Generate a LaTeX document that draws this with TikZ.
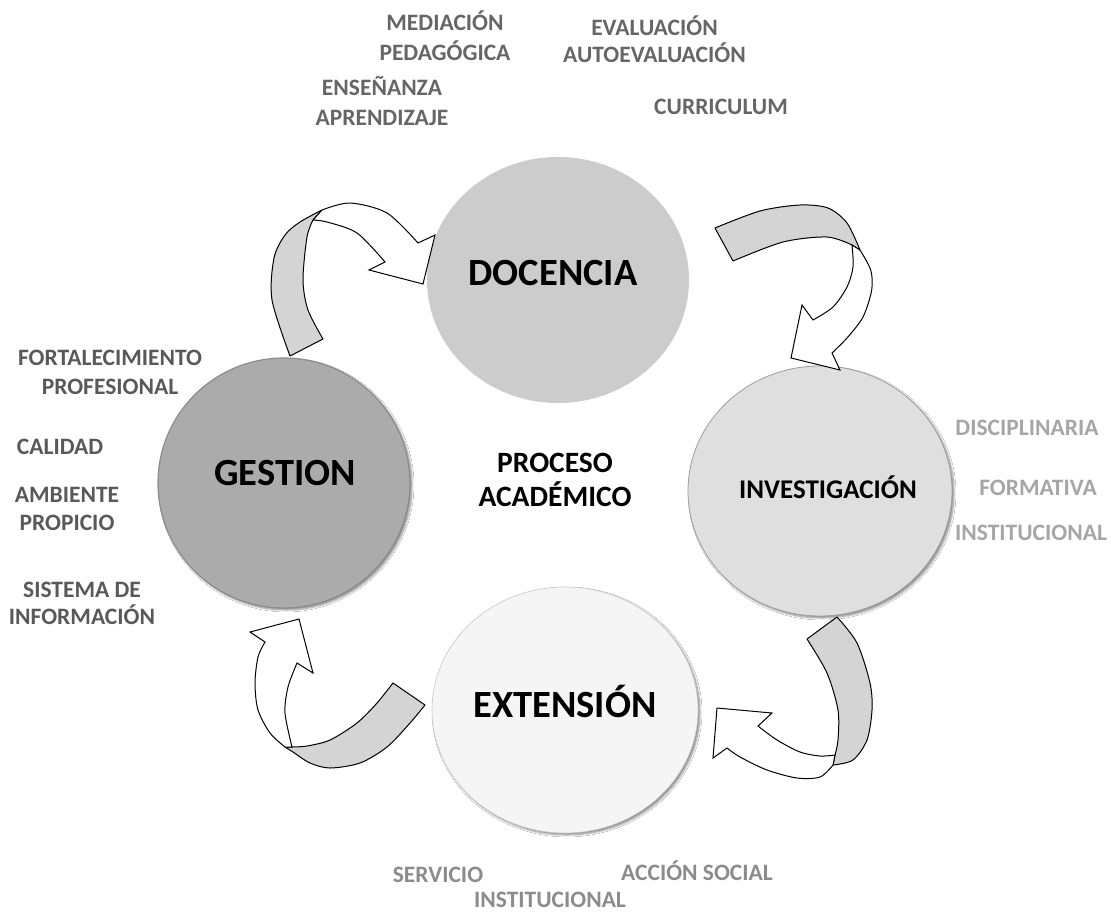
\documentclass[tikz,border=0pt]{standalone}
\usepackage{fontspec}
\setmainfont{Carlito}
\usetikzlibrary{shapes.geometric,shadows.blur}
\definecolor{docfill}{HTML}{CCCCCC}
\definecolor{invfill}{HTML}{DFDFDF}
\definecolor{extfill}{HTML}{F5F5F5}
\definecolor{gesfill}{HTML}{ABABAB}
\definecolor{bandfill}{HTML}{D4D4D4}
\definecolor{labdoc}{HTML}{666666}
\definecolor{labges}{HTML}{595959}
\definecolor{labinv}{HTML}{A6A6A6}
\definecolor{labext}{HTML}{8C8C8C}
\tikzset{
  lab/.style={font=\fontsize{23.5}{28}\selectfont\bfseries, anchor=base, inner sep=0pt},
  bigtxt/.style={font=\fontsize{38.5}{46}\selectfont\bfseries, anchor=base, inner sep=0pt},
  midtxt/.style={font=\fontsize{27}{32}\selectfont\bfseries, anchor=base, inner sep=0pt},
  protxt/.style={font=\fontsize{29.5}{35}\selectfont\bfseries, anchor=base, inner sep=0pt},
  disc/.style={ellipse, inner sep=0pt},
  softshadow/.style={blur shadow={shadow xshift=2pt, shadow yshift=-2pt, shadow blur steps=6, shadow opacity=45}},
  band/.style={fill=bandfill, draw=black, line width=1pt, line join=round},
  arrowbody/.style={fill=white, draw=black, line width=1pt, line join=miter},
}
\begin{document}
\begin{tikzpicture}[x=1pt,y=-1pt]
\useasboundingbox (0,0) rectangle (1111,918);
\fill[white] (0,0) rectangle (1111,918);

% circles
\node[disc, fill=docfill, minimum width=262pt, minimum height=246pt] (doc) at (558,280) {};
\node[disc, softshadow, fill=invfill, draw=black!38, line width=0.8pt, minimum width=264pt, minimum height=250pt] (inv) at (820,491) {};
\node[disc, softshadow, fill=extfill, draw=black!22, line width=0.6pt, minimum width=266pt, minimum height=246pt] (ext) at (565,710) {};
\node[disc, softshadow, fill=gesfill, draw=black!45, line width=1.2pt, minimum width=252pt, minimum height=250pt] (ges) at (284,483) {};

% arrow Gestion -> Docencia
\filldraw[band] (290,356) -- plot[smooth] coordinates {(290,356) (272,300) (274,258) (285,235) (300,222) (322,210)} -- (313,220) -- plot[smooth] coordinates {(313,220) (307,237) (303,280) (308,310) (323,339)} -- cycle;
\filldraw[arrowbody] (322,210) -- plot[smooth] coordinates {(322,210) (350,203) (387,213) (418,243)} -- (435,235) -- (423,284) -- (369,270) -- (385,262) -- plot[smooth] coordinates {(385,262) (357,233) (327,222) (313,220)} -- cycle;

% arrow Docencia -> Investigacion
\filldraw[band] (715,228) -- plot[smooth] coordinates {(715,228) (760,211) (800,205) (828,208) (847,223) (860,250)} -- (852,245) -- plot[smooth] coordinates {(852,245) (827,237) (783,242) (733,261)} -- cycle;
\filldraw[arrowbody] (860,250) -- plot[smooth] coordinates {(860,250) (870.7,270) (871.7,290) (863,317) (847,338) (832,353)} -- (840,370) -- (791,358) -- (802,305) -- (813,320) -- plot[smooth] coordinates {(813,320) (833,307) (847,287) (853,267) (852,245)} -- cycle;

% arrow Investigacion -> Extension
\filldraw[band] (807,639) -- (837,617) -- plot[smooth] coordinates {(837,617) (857,643) (870,683) (872,710) (867,740) (853,760) (833,765)} -- (835,755) -- plot[smooth] coordinates {(835,755) (838,740) (838,710) (827,673) (807,639)} -- cycle;
\filldraw[arrowbody] (833,765) -- plot[smooth] coordinates {(833,765) (820,777) (797,778) (767,770) (740,757) (727,748)} -- (713,758) -- (717,708) -- (772,713) -- (758,726) -- plot[smooth] coordinates {(758,726) (777,740) (800,752) (820,756) (835,755)} -- cycle;

% arrow Extension -> Gestion
\filldraw[band] (393,683) -- (425,705) -- plot[smooth] coordinates {(425,705) (410,723) (387,747) (360,763) (330,768) (310,763) (293,752) (285,747)} -- (292,747) -- plot[smooth] coordinates {(292,747) (307,746) (330,740) (357,723) (377,703) (393,683)} -- cycle;
\filldraw[arrowbody] (285,747) -- plot[smooth] coordinates {(285,747) (270,733) (258,710) (255,683) (258,657) (265,642)} -- (250,632) -- (299,619) -- (313,673) -- (297,663) -- plot[smooth] coordinates {(297,663) (288,687) (285,713) (292,747)} -- cycle;

% main texts
\node[bigtxt] (tdoc) at (553,285.5) {DOCENCIA};
\node[bigtxt] (tges) at (285,485) {GESTION};
\node[bigtxt] (text) at (565,717) {EXTENSIÓN};
\node[midtxt] (tinv) at (828,498.5) {INVESTIGACIÓN};
\node[protxt] (tpro1) at (555,472.3) {PROCESO};
\node[protxt] (tpro2) at (555,506.3) {ACADÉMICO};

% docencia labels
\node[lab, labdoc] (d1) at (445,30.4) {MEDIACIÓN};
\node[lab, labdoc] (d2) at (445,60.4) {PEDAGÓGICA};
\node[lab, labdoc] (d3) at (654.5,35.4) {EVALUACIÓN};
\node[lab, labdoc] (d4) at (654.5,62.4) {AUTOEVALUACIÓN};
\node[lab, labdoc] (d5) at (382,95.4) {ENSEÑANZA};
\node[lab, labdoc] (d6) at (382,125.4) {APRENDIZAJE};
\node[lab, labdoc] (d7) at (721,114.4) {CURRICULUM};

% gestion labels
\node[lab, labges] (g1) at (110,365.4) {FORTALECIMIENTO};
\node[lab, labges] (g2) at (110,394.4) {PROFESIONAL};
\node[lab, labges] (g3) at (60,454.4) {CALIDAD};
\node[lab, labges] (g4) at (67,502.4) {AMBIENTE};
\node[lab, labges] (g5) at (67,530.4) {PROPICIO};
\node[lab, labges] (g6) at (82,597.4) {SISTEMA DE};
\node[lab, labges] (g7) at (82,624.4) {INFORMACIÓN};

% investigacion labels
\node[lab, labinv] (i1) at (1027,435.4) {DISCIPLINARIA};
\node[lab, labinv] (i2) at (1038,495.4) {FORMATIVA};
\node[lab, labinv] (i3) at (1031,540.4) {INSTITUCIONAL};

% extension labels
\node[lab, labext] (e1) at (438,882.4) {SERVICIO};
\node[lab, labext] (e2) at (697,880.4) {ACCIÓN SOCIAL};
\node[lab, labext] (e3) at (550,907.4) {INSTITUCIONAL};
\end{tikzpicture}
\end{document}
